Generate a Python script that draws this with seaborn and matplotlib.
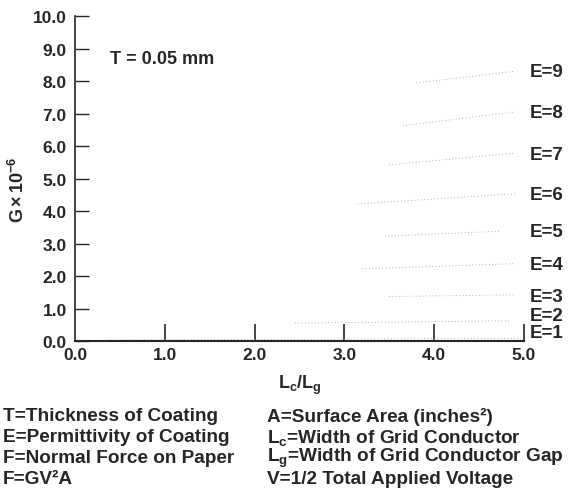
import pandas as pd
import matplotlib
matplotlib.use("Agg")
import matplotlib.pyplot as plt
import seaborn as sns

# Curves: one faint line per permittivity E
permittivity = [1, 2, 3, 4, 5, 6, 7, 8, 9]
ratio_start = [0.40, 2.45, 3.50, 3.20, 3.45, 3.15, 3.50, 3.65, 3.80]
ratio_end = [4.95, 4.85, 4.90, 4.90, 4.75, 4.90, 4.90, 4.90, 4.90]
g_start = [0.03, 0.55, 1.37, 2.22, 3.23, 4.22, 5.42, 6.62, 7.94]
g_end = [0.08, 0.62, 1.42, 2.38, 3.38, 4.53, 5.78, 7.05, 8.30]
label_y = [0.25, 0.80, 1.38, 2.35, 3.38, 4.52, 5.75, 7.02, 8.28]

x_ticks = [0.0, 1.0, 2.0, 3.0, 4.0, 5.0]
y_ticks = [0.0, 1.0, 2.0, 3.0, 4.0, 5.0, 6.0, 7.0, 8.0, 9.0, 10.0]

notes_left = ["T=Thickness of Coating", "E=Permittivity of Coating",
              "F=Normal Force on Paper", "F=GV²A"]
notes_right = ["A=Surface Area (inches²)", r"$\mathbf{L_c}$=Width of Grid Conductor",
               r"$\mathbf{L_g}$=Width of Grid Conductor Gap", "V=1/2 Total Applied Voltage"]

rows = []
for e, x0, x1, g0, g1 in zip(permittivity, ratio_start, ratio_end, g_start, g_end):
    rows.append({"E": e, "ratio": x0, "G": g0})
    rows.append({"E": e, "ratio": x1, "G": g1})
df = pd.DataFrame(rows)

sns.set_style("ticks")
plt.rcParams["font.family"] = ["Liberation Sans", "DejaVu Sans"]
plt.rcParams["mathtext.fontset"] = "custom"
plt.rcParams["mathtext.rm"] = "Liberation Sans"
plt.rcParams["mathtext.bf"] = "Liberation Sans:bold"

fig = plt.figure(figsize=(5.68, 4.89), dpi=100)
ax = fig.add_axes([0.132, 0.3006, 0.7905, 0.6646])

sns.lineplot(data=df, x="ratio", y="G", units="E", estimator=None,
             color="0.6", linewidth=0.6, linestyle=(0, (1, 3)), ax=ax, legend=False)

for e, y in zip(permittivity, label_y):
    ax.text(5.06, y, f"E={e}", fontsize=13.5, fontweight="bold",
            va="center", ha="left", clip_on=False)

ax.text(0.39, 8.68, "T = 0.05 mm", fontsize=13, fontweight="bold", va="center")

ax.set_xlim(0, 5)
ax.set_ylim(0, 10)
ax.set_xticks(x_ticks)
ax.set_yticks(y_ticks)
ax.set_xticklabels([f"{t:.1f}" for t in x_ticks], fontsize=12.5, fontweight="bold")
ax.set_yticklabels([f"{t:.1f}" for t in y_ticks], fontsize=12.5, fontweight="bold")
ax.tick_params(axis="y", direction="in", length=10, width=1, pad=6)
ax.tick_params(axis="x", direction="in", length=12, width=1.2, pad=4)
xt = ax.xaxis.get_major_ticks()
xt[0].tick1line.set_visible(False)
sns.despine(ax=ax)
ax.spines["left"].set_linewidth(1.2)
ax.spines["bottom"].set_linewidth(1.5)

ax.set_xlabel(r"$\mathbf{L_c/L_g}$", fontsize=13, labelpad=8)
ax.set_ylabel("")
fig.text(0.032, 0.612, r"$\mathbf{G\,{\times}\,10^{-6}}$", rotation=90,
         fontsize=13, ha="center", va="center")

for i, (left, right) in enumerate(zip(notes_left, notes_right)):
    y = 1 - (417 + i * 20.7) / 489
    fig.text(0.005, y, left, fontsize=13.7, fontweight="bold", va="center")
    fig.text(0.470, y, right, fontsize=13.7, fontweight="bold", va="center")

fig.savefig("out.png", dpi=100)
